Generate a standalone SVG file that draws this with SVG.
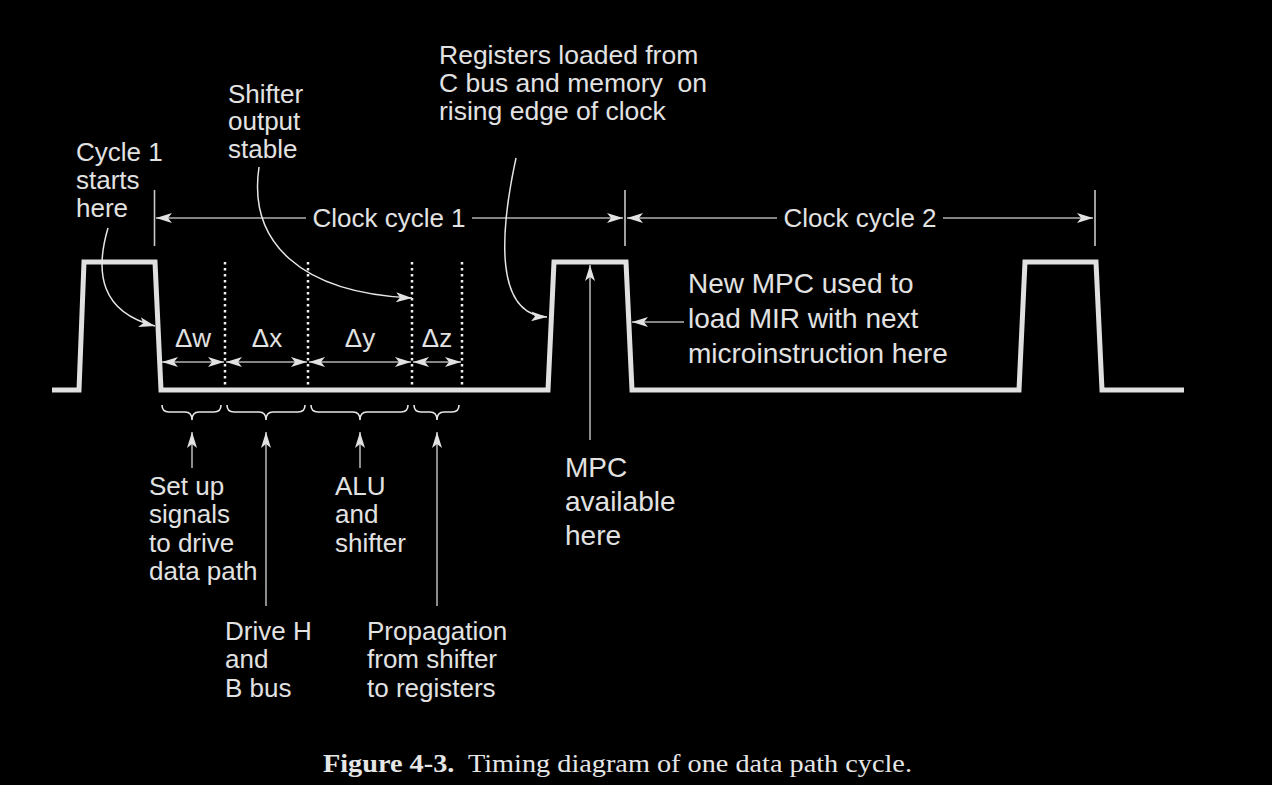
<svg xmlns="http://www.w3.org/2000/svg" width="1272" height="785" viewBox="0 0 1272 785">
<style>
.t{font-family:"Liberation Sans",Arial,sans-serif;font-size:26px;fill:#e2e2e2}
.tb{font-family:"Liberation Sans",Arial,sans-serif;font-size:28px;fill:#e2e2e2}
.wave{fill:none;stroke:#e0e0e0;stroke-width:5;stroke-linejoin:miter}
.dot{stroke:#f0f0f0;stroke-width:2.5;stroke-dasharray:2.5 3.5}
.dim{fill:none;stroke:#b0b0b0;stroke-width:1.6}
.tick{fill:none;stroke:#c8c8c8;stroke-width:1.6}
.cur{fill:none;stroke:#e6e6e6;stroke-width:1.5}
.br{fill:none;stroke:#e6e6e6;stroke-width:1.6}
.cap{font-family:"Liberation Serif","Times New Roman",serif;font-size:26px;fill:#e6e6e6}
</style>
<defs>
<marker id="ah" markerUnits="userSpaceOnUse" viewBox="0 0 16 10" refX="16" refY="5" markerWidth="16" markerHeight="10" orient="auto-start-reverse">
<path d="M0,0 L16,5 L0,10 L4,5 Z" fill="#e2e2e2"/>
</marker>
</defs>
<rect width="1272" height="785" fill="#000"/>

<g id="waveform">
<polyline class="wave" points="52,390 79,390 84,262 155,262 161,390 548,390 554,262 626,262 632,390 1019,390 1025,262 1096,262 1102,390 1184,390"/>
</g>

<g id="dividers">
<line class="dot" x1="225" y1="262" x2="225" y2="388"/>
<line class="dot" x1="308" y1="262" x2="308" y2="388"/>
<line class="dot" x1="412" y1="262" x2="412" y2="388"/>
<line class="dot" x1="462" y1="262" x2="462" y2="388"/>
</g>

<g id="connectors">
<line class="dim" x1="162" y1="362" x2="224" y2="362" marker-start="url(#ah)" marker-end="url(#ah)"/>
<line class="dim" x1="226" y1="362" x2="307" y2="362" marker-start="url(#ah)" marker-end="url(#ah)"/>
<line class="dim" x1="309" y1="362" x2="411" y2="362" marker-start="url(#ah)" marker-end="url(#ah)"/>
<line class="dim" x1="413" y1="362" x2="461" y2="362" marker-start="url(#ah)" marker-end="url(#ah)"/>
<line class="tick" x1="154.5" y1="190" x2="154.5" y2="246"/>
<line class="tick" x1="625" y1="190" x2="625" y2="246"/>
<line class="tick" x1="1095" y1="190" x2="1095" y2="246"/>
<line class="dim" x1="306" y1="218" x2="156" y2="218" marker-end="url(#ah)"/>
<line class="dim" x1="472" y1="218" x2="623" y2="218" marker-end="url(#ah)"/>
<line class="dim" x1="777" y1="218" x2="627" y2="218" marker-end="url(#ah)"/>
<line class="dim" x1="943" y1="218" x2="1093" y2="218" marker-end="url(#ah)"/>
<path class="br" d="M162,405 Q162,412 169,412 H185 Q192,412 192,420 Q192,412 199,412 H214 Q221,412 221,405"/>
<path class="br" d="M227,405 Q227,412 234,412 H259 Q266,412 266,420 Q266,412 273,412 H298 Q305,412 305,405"/>
<path class="br" d="M311,405 Q311,412 318,412 H353 Q360,412 360,420 Q360,412 367,412 H401 Q408,412 408,405"/>
<path class="br" d="M414,405 Q414,412 421,412 H430 Q437,412 437,420 Q437,412 444,412 H452 Q459,412 459,405"/>
<line class="dim" x1="192" y1="468" x2="192" y2="432" marker-end="url(#ah)"/>
<line class="dim" x1="266" y1="606" x2="266" y2="432" marker-end="url(#ah)"/>
<line class="dim" x1="360" y1="468" x2="360" y2="432" marker-end="url(#ah)"/>
<line class="dim" x1="437" y1="606" x2="437" y2="432" marker-end="url(#ah)"/>
<line class="dim" x1="590" y1="440" x2="590" y2="265" marker-end="url(#ah)"/>
<line class="dim" x1="684" y1="322" x2="632" y2="322" marker-end="url(#ah)"/>
<path class="cur" d="M108,228 C95,272 100,312 155,326" marker-end="url(#ah)"/>
<path class="cur" d="M259,167 C248,242 300,293 412,298" marker-end="url(#ah)"/>
<path class="cur" d="M516,158 C500,232 494,315 547,317" marker-end="url(#ah)"/>
</g>

<g id="label-cycle1-start">
<text class="t" x="76" y="161">Cycle 1</text>
<text class="t" x="76" y="189">starts</text>
<text class="t" x="76" y="217">here</text>
</g>
<g id="label-shifter-stable">
<text class="t" x="228" y="103">Shifter</text>
<text class="t" x="228" y="130">output</text>
<text class="t" x="228" y="158">stable</text>
</g>
<g id="label-registers">
<text class="t" x="439" y="64" style="font-size:26.5px">Registers loaded from</text>
<text class="t" x="439" y="92" style="font-size:26.5px" xml:space="preserve">C bus and memory  on</text>
<text class="t" x="439" y="120" style="font-size:26.5px">rising edge of clock</text>
</g>
<g id="label-clock1">
<text class="t" x="389" y="227" text-anchor="middle">Clock cycle 1</text>
</g>
<g id="label-clock2">
<text class="t" x="860" y="227" text-anchor="middle">Clock cycle 2</text>
</g>
<g id="label-deltas">
<text class="t" x="193" y="347" text-anchor="middle">Δw</text>
<text class="t" x="267" y="347" text-anchor="middle">Δx</text>
<text class="t" x="360" y="347" text-anchor="middle">Δy</text>
<text class="t" x="437" y="347" text-anchor="middle">Δz</text>
</g>
<g id="label-setup">
<text class="t" x="149" y="495">Set up</text>
<text class="t" x="149" y="523">signals</text>
<text class="t" x="149" y="552">to drive</text>
<text class="t" x="149" y="580">data path</text>
</g>
<g id="label-alu">
<text class="t" x="335" y="495">ALU</text>
<text class="t" x="335" y="523">and</text>
<text class="t" x="335" y="552">shifter</text>
</g>
<g id="label-drive">
<text class="t" x="225" y="640">Drive H</text>
<text class="t" x="225" y="668">and</text>
<text class="t" x="225" y="697">B bus</text>
</g>
<g id="label-propagation">
<text class="t" x="367" y="640">Propagation</text>
<text class="t" x="367" y="668">from shifter</text>
<text class="t" x="367" y="697">to registers</text>
</g>
<g id="label-mpc">
<text class="tb" x="565" y="477">MPC</text>
<text class="tb" x="565" y="511">available</text>
<text class="tb" x="565" y="545">here</text>
</g>
<g id="label-newmpc">
<text class="tb" x="688" y="293">New MPC used to</text>
<text class="tb" x="688" y="328">load MIR with next</text>
<text class="tb" x="688" y="363">microinstruction here</text>
</g>
<g id="caption">
<text class="cap" x="323" y="772" textLength="589" lengthAdjust="spacingAndGlyphs" xml:space="preserve"><tspan font-weight="bold">Figure 4-3.</tspan>  Timing diagram of one data path cycle.</text>
</g>
</svg>
